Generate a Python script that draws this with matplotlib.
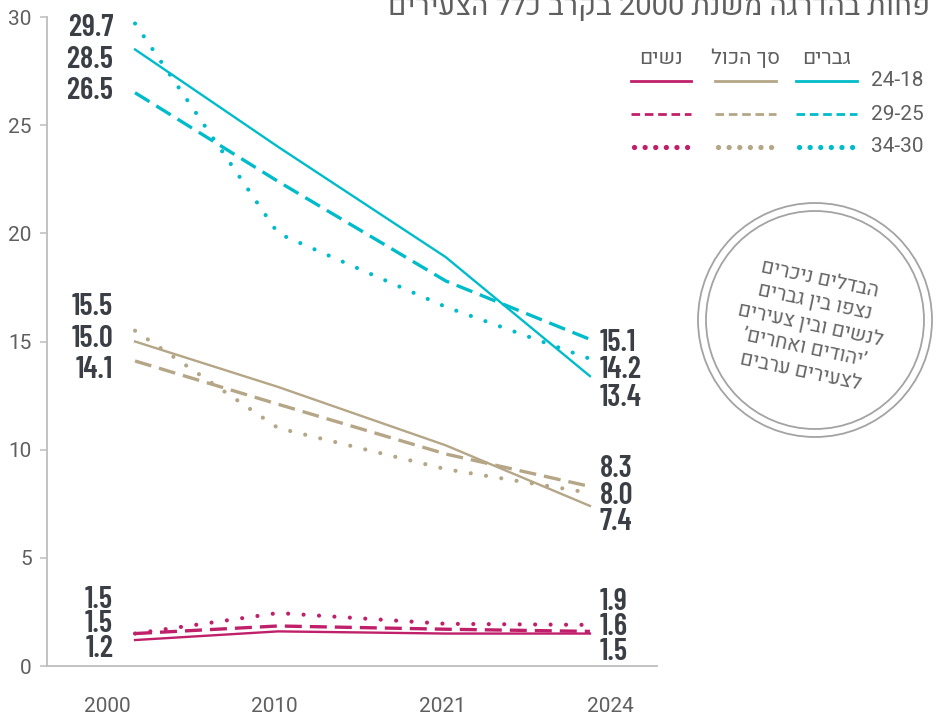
import matplotlib
matplotlib.use('Agg')
import matplotlib.pyplot as plt
from matplotlib.patches import Circle
from matplotlib import font_manager

# data
years = [2000, 2010, 2021, 2024]
men_18_24 = [28.5, 24.0, 18.9, 13.4]
men_25_29 = [26.5, 22.4, 17.8, 15.1]
men_30_34 = [29.7, 20.0, 16.6, 14.2]
total_18_24 = [15.0, 12.9, 10.2, 7.4]
total_25_29 = [14.1, 12.1, 9.8, 8.3]
total_30_34 = [15.5, 11.0, 9.1, 8.0]
women_18_24 = [1.2, 1.6, 1.5, 1.5]
women_25_29 = [1.5, 1.85, 1.7, 1.6]
women_30_34 = [1.5, 2.45, 1.95, 1.9]

group_names = ['נשים', 'סך הכול', 'גברים']
age_labels = ['24-18', '29-25', '34-30']
title_text = 'פחות בהדרגה משנת 2000 בקרב כלל הצעירים'
note_lines = ['הבדלים ניכרים', 'נצפו בין גברים', 'לנשים ובין צעירים',
              '’יהודים ואחרים’', 'לצעירים ערבים']

CYAN = '#00bccb'
TAN = '#b4a686'
PINK = '#c0206a'
DARK = '#3b3f45'
GRAY = '#5f5f5f'

names = {f.name for f in font_manager.fontManager.ttflist}


def pick(cands):
    for c in cands:
        if c in names:
            return c
    return 'DejaVu Sans'


HEB = [pick(['Heebo', 'Assistant', 'Open Sans']), 'DejaVu Sans']
NUM = pick(['Barlow Condensed', 'Roboto Condensed', 'Fira Sans Condensed',
            'Oswald'])


def heb(s):
    # matplotlib has no bidi: flip word order and the letters of hebrew words
    out = []
    for w in reversed(s.split(' ')):
        if any('\u0590' <= c <= '\u05ff' for c in w):
            out.append(w[::-1])
        else:
            out.append(w)
    return ' '.join(out)


# layout: where each year sits on the categorical axis
tick_pos = [0, 1, 2, 3]
data_pos = [0.167, 1.02, 2.02, 2.88]

SOLID = '-'
DASH = (0, (5.1, 2.4))
DOT = (0, (0.01, 3.7))

fig = plt.figure(figsize=(9.37, 7.16), dpi=100)
ax = fig.add_axes([47 / 937, 1 - 666 / 716, 610 / 937, 649 / 716])

series = [
    (men_18_24, CYAN, SOLID), (men_25_29, CYAN, DASH), (men_30_34, CYAN, DOT),
    (total_18_24, TAN, SOLID), (total_25_29, TAN, DASH), (total_30_34, TAN, DOT),
    (women_18_24, PINK, SOLID), (women_25_29, PINK, DASH), (women_30_34, PINK, DOT),
]
for vals, col, ls in series:
    if ls == SOLID:
        ax.plot(data_pos, vals, color=col, lw=1.7, solid_joinstyle='round')
    elif ls == DOT:
        ax.plot(data_pos, vals, color=col, lw=3.0, linestyle=ls,
                dash_capstyle='round')
    else:
        ax.plot(data_pos, vals, color=col, lw=2.4, linestyle=ls)

ax.set_xlim(-0.358, 3.28)
ax.set_ylim(0, 30)
ax.set_yticks([0, 5, 10, 15, 20, 25, 30])
ax.set_xticks(tick_pos)
ax.set_xticklabels([str(y) for y in years])
for s in ['top', 'right']:
    ax.spines[s].set_visible(False)
for s in ['left', 'bottom']:
    ax.spines[s].set_color('#bdbdbd')
    ax.spines[s].set_linewidth(1.3)
ax.tick_params(axis='y', length=5, width=1.1, color='#bdbdbd', pad=6,
               labelsize=15, labelcolor=GRAY)
ax.tick_params(axis='x', length=0, pad=22, labelsize=15, labelcolor=GRAY)
for lab in ax.get_xticklabels() + ax.get_yticklabels():
    lab.set_family(HEB)
    lab.set_fontweight('light')

# value labels at both ends, stacked by value
label_groups = [
    # (values, end index, center, step)
    ([men_30_34, men_18_24, men_25_29], 0, 28.02, 1.46),
    ([total_30_34, total_18_24, total_25_29], 0, 15.13, 1.45),
    ([women_30_34, women_25_29, women_18_24], 0, 1.92, 1.12),
    ([men_25_29, men_30_34, men_18_24], -1, 13.66, 1.28),
    ([total_25_29, total_30_34, total_18_24], -1, 7.88, 1.22),
    ([women_30_34, women_25_29, women_18_24], -1, 1.79, 1.15),
]
for group, idx, center, step in label_groups:
    for k, vals in enumerate(group):
        y = center + (1 - k) * step
        if idx == 0:
            ax.text(0.036, y, f'{vals[idx]:.1f}', ha='right', va='center',
                    fontsize=22, fontweight='semibold', family=NUM,
                    color=DARK)
        else:
            ax.text(2.94, y, f'{vals[idx]:.1f}', ha='left', va='center',
                    fontsize=22, fontweight='semibold', family=NUM,
                    color=DARK)

# overlay in pixel coordinates for title, legend and the note
ov = fig.add_axes([0, 0, 1, 1], facecolor='none')
ov.set_xlim(0, 937)
ov.set_ylim(716, 0)
ov.axis('off')

ov.text(930, 15, heb(title_text), ha='right', va='baseline', fontsize=21,
        color=GRAY, family=HEB, fontweight='light')

col_x = [(631, 691), (715, 776), (796, 857)]
col_colors = [PINK, TAN, CYAN]
row_y = [81, 114, 147]
for (x0, x1), col, name in zip(col_x, col_colors, group_names):
    ov.text((x0 + x1) / 2, 58, heb(name), ha='center', va='center',
            fontsize=15, color=GRAY, family=HEB, fontweight='light')
    ov.plot([x0, x1], [row_y[0]] * 2, color=col, lw=2.0)
    ov.plot([x0, x1], [row_y[1]] * 2, color=col, lw=2.0,
            linestyle=(0, (3.1, 1.7)))
    ov.plot([x0 + 3, x1 - 1], [row_y[2]] * 2, color=col, lw=3.8,
            linestyle=(0, (0.01, 2.0)), dash_capstyle='round')
for y, lab in zip(row_y, age_labels):
    ov.text(871, y, lab, ha='left', va='center', fontsize=15,
            color=GRAY, family=HEB, fontweight='light')

ov.add_patch(Circle((815, 320), 117, fill=False, ec='#a3a3a3', lw=1.3))
ov.add_patch(Circle((815, 320), 109, fill=False, ec='#a3a3a3', lw=1.3))
ov.text(810, 325, '\n'.join(heb(l) for l in note_lines), ha='center',
        va='center', rotation=-12, rotation_mode='anchor', fontsize=14.5,
        color='#666666', family=HEB, linespacing=1.3)

fig.savefig('out.png', dpi=100)
